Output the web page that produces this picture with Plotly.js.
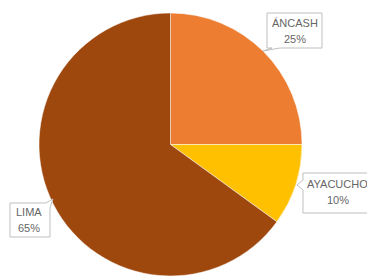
<!DOCTYPE html>
<html>
<head>
<meta charset="utf-8">
<script src="https://cdn.plot.ly/plotly-3.0.1.min.js"></script>
<style>
html,body{margin:0;padding:0;overflow:hidden;background:#fff;}
#chart{width:367px;height:290px;}
</style>
</head>
<body>
<div id="chart"></div>
<script>
var categories = ["ÁNCASH", "AYACUCHO", "LIMA"];
var values = [25, 10, 65];
var colors = ["#ED7D31", "#FFC000", "#9E480E"];

var W = 367, H = 290, ML = 39, MR = 65, MT = 13, MB = 14;
var PW = W - ML - MR, PH = H - MT - MB;
function px(x){ return (x - ML) / PW; }
function py(y){ return (H - MB - y) / PH; }
function path(pts){
  return pts.map(function(p,i){ return (i ? "L" : "M") + px(p[0]).toFixed(4) + "," + py(p[1]).toFixed(4); }).join(" ") + " Z";
}

var total = values.reduce(function(a,b){return a+b;},0);
function pct(v){ return Math.round(v/total*100) + "%"; }

// callout boxes (pixel layout)
var boxes = [
  {cx:294.5, cy:31, pts:[[267,13],[322,13],[322,48],[280,48],[263,51],[272,48],[267,48]]},
  {cx:337.5, cy:192, pts:[[303,173],[375,173],[375,213],[303,213],[303,190],[297,185],[303,180]]},
  {cx:28.5, cy:220, pts:[[10,203],[46,203],[53,199],[50,208],[50,237],[10,237]]}
];

var shapes = boxes.map(function(b){
  return {type:"path", xref:"paper", yref:"paper", path:path(b.pts),
    fillcolor:"#ffffff", line:{color:"#BFBFBF", width:1}};
});
var font = {family:"Liberation Sans, Arial, sans-serif", size:11, color:"#666666"};
var annotations = [];
boxes.forEach(function(b,i){
  annotations.push({xref:"paper", yref:"paper", x:px(b.cx), y:py(b.cy - 8), xanchor:"center", yanchor:"middle",
    text: categories[i], showarrow:false, font:font});
  annotations.push({xref:"paper", yref:"paper", x:px(b.cx), y:py(b.cy + 8), xanchor:"center", yanchor:"middle",
    text: pct(values[i]), showarrow:false, font:font});
});

var data = [{
  type:"pie", labels:categories, values:values, sort:false, direction:"clockwise", rotation:0,
  marker:{colors:colors, line:{color:"#ffffff", width:0.5}},
  textinfo:"none", hoverinfo:"label+percent", showlegend:false
}];

var layout = {
  width:W, height:H, margin:{l:ML, r:MR, t:MT, b:MB, pad:0},
  paper_bgcolor:"#ffffff", plot_bgcolor:"#ffffff",
  showlegend:false, shapes:shapes, annotations:annotations
};

Plotly.newPlot("chart", data, layout, {displayModeBar:false, staticPlot:true});
</script>
</body>
</html>
